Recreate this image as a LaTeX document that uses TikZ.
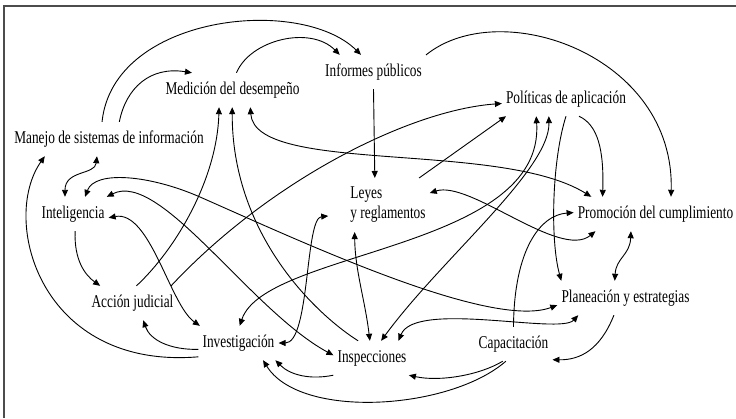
\documentclass[tikz,border=0pt]{standalone}
\usepackage{fontspec}
\setmainfont{Liberation Serif}[FakeStretch=0.74]
\usetikzlibrary{arrows.meta}
\begin{document}
\begin{tikzpicture}[x=1bp,y=-1bp,
  txt/.style={font=\fontsize{18bp}{20bp}\selectfont,inner xsep=4bp,inner ysep=9bp},
  lbl/.style={txt,text height=12bp,text depth=4bp,anchor=base},
  link/.style={-{Triangle[length=7bp,width=6bp]},line width=0.9bp},
  both/.style={{Triangle[length=7bp,width=6bp]}-{Triangle[length=7bp,width=6bp]},line width=0.9bp}]
\useasboundingbox (0,0) rectangle (736,418);
\draw[line width=1.2bp,black!70] (4,418)--(4,6)--(736,6);
\node[lbl] (manejo) at (109,143) {Manejo de sistemas de información};
\node[lbl] (medicion) at (232.5,94) {Medición del desempeño};
\node[lbl] (informes) at (373.5,76) {Informes públicos};
\node[lbl] (politicas) at (566,103) {Políticas de aplicación};
\node[txt,align=left] (leyes) at (388,205) {Leyes\\y reglamentos};
\node[lbl] (promocion) at (655.5,218) {Promoción del cumplimiento};
\node[lbl] (inteligencia) at (73,218) {Inteligencia};
\node[lbl] (accion) at (132.5,307) {Acción judicial};
\node[lbl] (investigacion) at (238.5,347) {Investigación};
\node[lbl] (inspecciones) at (372,362) {Inspecciones};
\node[lbl] (capacitacion) at (513.5,348) {Capacitación};
\node[lbl] (planeacion) at (625.5,302) {Planeación y estrategias};
\draw[link] (manejo.112) .. controls (113,15) and (300,-5) .. (informes.126);
\draw[link] (manejo.59) .. controls (126,88) and (150,66) .. (medicion.157);
\draw[link] (medicion.77) .. controls (250,40) and (310,25) .. (informes.153);
\draw[link] (accion.77) .. controls (175,250) and (217,180) .. (medicion.232);
\draw[link] (inspecciones.129) .. controls (310,310) and (232,230) .. (medicion.269);
\draw[both] (medicion.316) .. controls (255,175) and (500,140) .. (promocion.165);
\draw[link] (accion.24) .. controls (270,180) and (410,110) .. (politicas.184);
\draw[link] (leyes.41) -- (politicas.196);
\draw[both] (investigacion.86) .. controls (265,250) and (545,250) .. (politicas.210);
\draw[both] (inspecciones.62) .. controls (440,260) and (550,170) .. (politicas.225);
\draw[link] (politicas.south) .. controls (552,160) and (550,240) .. (planeacion.165);
\draw[link] (politicas.307) .. controls (598,125) and (604,150) .. (promocion.162);
\draw[link] (informes.18) .. controls (500,-5) and (675,55) .. (promocion.48);
\draw[link] (informes.south) -- (leyes.116);
\draw[both] (leyes.16) .. controls (470,180) and (560,260) .. (promocion.196);
\draw[link] (capacitacion.north) .. controls (514,250) and (540,215) .. (promocion.179);
\draw[both] (promocion.215) .. controls (630,255) and (616,258) .. (planeacion.122);
\draw[both] (investigacion.east) .. controls (310,343) and (305,218) .. ([shift={(-18bp,-11bp)}]leyes.west);
\draw[both] (inspecciones.97) .. controls (365,300) and (355,270) .. (leyes.219);
\draw[both] (manejo.235) .. controls (95,175) and (65,170) .. (inteligencia.115);
\draw[link] (investigacion.199) .. controls (40,370) and (0,220) .. (manejo.195);
\draw[both] (inteligencia.55) .. controls (95,170) and (150,175) .. (200,197) .. controls (300,241) and (490,330) .. (planeacion.186);
\draw[both] (inteligencia.27) .. controls (160,170) and (250,310) .. (inspecciones.176);
\draw[both] (inteligencia.354) .. controls (150,210) and (170,305) .. (investigacion.156);
\draw[link] (inteligencia.277) .. controls (74,260) and (85,275) .. (accion.152);
\draw[link] (investigacion.189) .. controls (170,350) and (150,340) .. (accion.302);
\draw[link] (inspecciones.204) .. controls (310,380) and (290,375) .. (investigacion.335);
\draw[link] (capacitacion.246) .. controls (450,410) and (300,420) .. (investigacion.325);
\draw[link] (capacitacion.238) .. controls (480,375) and (440,382) .. (inspecciones.335);
\draw[link] (planeacion.236) .. controls (600,350) and (580,360) .. (capacitacion.338);
\draw[both] (inspecciones.33) .. controls (415,300) and (560,335) .. (planeacion.200);
\end{tikzpicture}
\end{document}
